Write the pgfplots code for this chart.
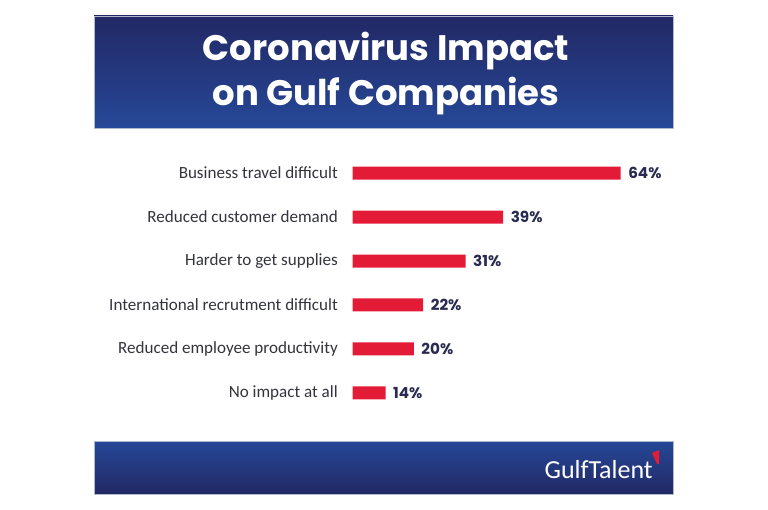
\documentclass[border=0pt]{standalone}
\usepackage{fontspec}
\usepackage{pgfplots}
\pgfplotsset{compat=1.18}
\setmainfont{Carlito}
\newfontfamily\pop{Poppins}
\definecolor{barred}{RGB}{227,27,54}
\definecolor{labgrey}{RGB}{52,52,60}
\definecolor{pctnavy}{RGB}{40,42,80}
\definecolor{bandark}{RGB}{34,40,100}
\definecolor{banlight}{RGB}{38,72,152}
\definecolor{banborder}{RGB}{176,184,206}
\begin{document}
\begin{tikzpicture}[x=0.75pt,y=-0.75pt]
\path[use as bounding box,fill=white] (0,0) rectangle (768,510);
% top banner
\shade[top color=bandark,bottom color=banlight,draw=banborder,line width=0.6pt] (94,16) rectangle (673,128);
\node[anchor=base,text=white,inner sep=0pt] at (386,61) {\pop\bfseries\fontsize{26.6}{30}\selectfont Coronavirus Impact};
\node[anchor=base,text=white,inner sep=0pt] at (386,106) {\pop\bfseries\fontsize{26.6}{30}\selectfont on Gulf Companies};
% bottom banner
\shade[top color=banlight,bottom color=bandark,draw=banborder,line width=0.6pt] (94,441) rectangle (673,494);
\node[anchor=base east,text=white,inner sep=0pt] at (653,478) {\fontsize{19.5}{22}\selectfont GulfTalent};
\fill[barred] (652,453) -- (659,450) -- (659,464) -- (657,464) -- cycle;
\coordinate (axnw) at (352.7,151);
\begin{axis}[
  at={(axnw)}, anchor=north west,
  scale only axis, width=201pt, height=198pt,
  xbar, bar width=9.75pt,
  xmin=7, xmax=64, ymin=-0.5, ymax=5.5,
  y dir=reverse,
  axis line style={draw=none},
  major tick length=0pt,
  xtick=\empty,
  ytick={0,1,2,3,4,5},
  yticklabels={Business travel difficult,Reduced customer demand,Harder to get supplies,International recrutment difficult,Reduced employee productivity,No impact at all},
  yticklabel style={font=\fontsize{12.8}{14}\selectfont, text=labgrey, inner sep=0pt, anchor=east, xshift=-11pt},
  /pgf/number format/assume math mode=true,
  nodes near coords={\pgfmathprintnumber{\pgfplotspointmeta}\%},
  point meta=x,
  nodes near coords style={font=\pop\bfseries\fontsize{11.4}{13}\selectfont, text=pctnavy, anchor=west, inner sep=0pt, xshift=5.5pt},
  clip=true,
]
\addplot[fill=barred, draw=none] coordinates {(64,0) (39,1) (31,2) (22,3) (20,4) (14,5)};
\end{axis}
\end{tikzpicture}
\end{document}
